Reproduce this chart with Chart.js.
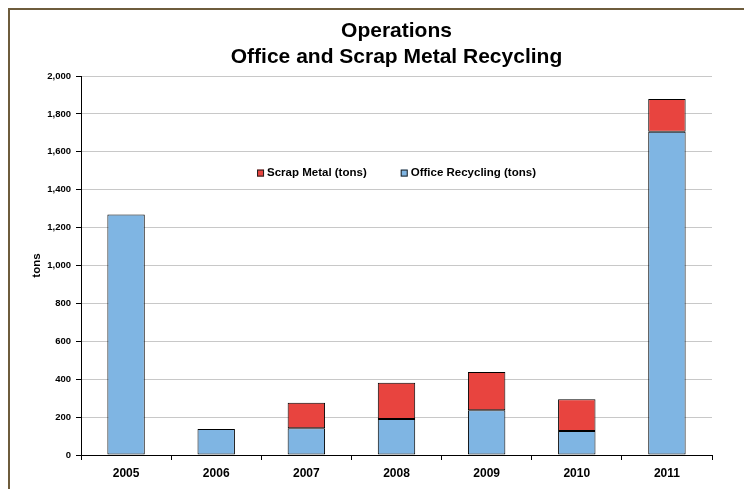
<!DOCTYPE html>
<html>
<head>
<meta charset="utf-8">
<script src="https://cdn.jsdelivr.net/npm/chart.js@4.4.1/dist/chart.umd.min.js"></script>
<style>
  html, body { margin: 0; padding: 0; background: #fff; overflow: hidden; }
  #frame {
    position: absolute; left: 8px; top: 8px; width: 800px; height: 600px;
    border: 2px solid #6e5c3c; box-sizing: border-box;
  }
  #wrap { position: absolute; left: 0; top: 0; width: 744px; height: 489px; }
</style>
</head>
<body>
<div id="frame"></div>
<div id="wrap"><canvas id="grafico" width="744" height="489"></canvas></div>
<script>
// --- dados ---
const anos = ["2005", "2006", "2007", "2008", "2009", "2010", "2011"];
const officeRecycling = [1270, 137, 141, 190, 236, 127, 1706];
const scrapMetal = [null, null, 135, 192, 202, 167, 173];
const yTicks = [0, 200, 400, 600, 800, 1000, 1200, 1400, 1600, 1800, 2000];

const FONTE = "'Liberation Sans', Arial, sans-serif";

// legenda desenhada dentro da área do gráfico
const legendaInterna = {
  id: "legendaInterna",
  afterDatasetsDraw(chart) {
    const ctx = chart.ctx;
    const area = chart.chartArea;
    const itens = chart.data.datasets.slice().reverse();
    ctx.save();
    ctx.font = "bold 11.5px " + FONTE;
    ctx.textBaseline = "middle";
    const quad = 7, gapTexto = 3, gapItem = 34;
    const larguras = itens.map((d) => ctx.measureText(d.label).width);
    let total = 0;
    larguras.forEach((w, i) => {
      total += quad + gapTexto + w + (i < larguras.length - 1 ? gapItem : 0);
    });
    let x = (area.left + area.right) / 2 - total / 2;
    const y = area.top + 97;
    itens.forEach((d, i) => {
      ctx.fillStyle = d.backgroundColor;
      ctx.fillRect(x, y - quad / 2, quad, quad);
      ctx.strokeStyle = "#222";
      ctx.lineWidth = 1;
      ctx.strokeRect(x + 0.5, y - quad / 2 + 0.5, quad - 1, quad - 1);
      x += quad + gapTexto;
      ctx.fillStyle = "#000";
      ctx.fillText(d.label, x, y);
      x += larguras[i] + gapItem;
    });
    ctx.restore();
  },
};

const ctx = document.getElementById("grafico").getContext("2d");
new Chart(ctx, {
  type: "bar",
  data: {
    labels: anos,
    datasets: [
      {
        label: "Office Recycling (tons)",
        data: officeRecycling,
        backgroundColor: "#7fb5e3",
        borderColor: "#000",
        borderWidth: 1,
        borderSkipped: false,
        barPercentage: 0.415,
        categoryPercentage: 1,
      },
      {
        label: "Scrap Metal (tons)",
        data: scrapMetal,
        backgroundColor: "#e8443f",
        borderColor: "#000",
        borderWidth: 1,
        borderSkipped: false,
        barPercentage: 0.415,
        categoryPercentage: 1,
      },
    ],
  },
  options: {
    responsive: false,
    animation: false,
    layout: { padding: { left: 10, right: 32, top: 0, bottom: 0 } },
    plugins: {
      legend: { display: false },
      tooltip: { enabled: false },
      title: {
        display: true,
        fullSize: false,
        text: ["Operations", "Office and Scrap Metal Recycling"],
        color: "#000",
        font: { family: FONTE, size: 21, weight: "bold", lineHeight: 1.24 },
        padding: { top: 18, bottom: 6 },
      },
    },
    scales: {
      x: {
        stacked: true,
        offset: true,
        grid: {
          offset: true,
          drawOnChartArea: true,
          color: (c) => (c.index === anos.length ? "#c8c8c8" : "rgba(0,0,0,0)"),
          tickColor: "#000",
          tickLength: 5,
        },
        border: { color: "#000", width: 1 },
        ticks: {
          color: "#000",
          padding: 6,
          font: { family: FONTE, size: 12, weight: "bold" },
        },
        afterFit: (s) => { s.height = 34; },
      },
      y: {
        stacked: true,
        min: 0,
        max: 2000,
        afterBuildTicks: (s) => { s.ticks = yTicks.map((v) => ({ value: v })); },
        grid: { color: "#c8c8c8", tickColor: "#000", tickLength: 5 },
        border: { color: "#000", width: 1 },
        ticks: {
          color: "#000",
          padding: 5,
          font: { family: FONTE, size: 9.5, weight: "bold" },
          callback: (v) => v.toLocaleString("en-US"),
        },
        title: {
          display: true,
          text: "tons",
          color: "#000",
          font: { family: FONTE, size: 11.5, weight: "bold" },
          padding: { top: 20, bottom: 0 },
        },
        afterFit: (s) => { s.width = 71; },
      },
    },
  },
  plugins: [legendaInterna],
});
</script>
</body>
</html>
